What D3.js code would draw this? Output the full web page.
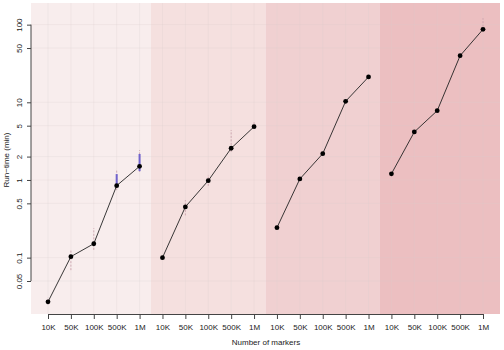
<!DOCTYPE html>
<html>
<head>
<meta charset="utf-8">
<script src="https://cdn.jsdelivr.net/npm/d3@7"></script>
<style>
  body { margin: 0; background: #fff; }
  svg { display: block; font-family: "Liberation Sans", Arial, sans-serif; }
</style>
</head>
<body>
<svg width="504" height="350"></svg>
<script>
// marker counts, repeated in each of the 4 shaded panels
const sizes = ["10K", "50K", "100K", "500K", "1M"];
const panelColors = ["#f8eded", "#f5e0df", "#f0d0d1", "#ecbfc1"];

// run-time (min): median, whiskers, box per panel
const runtime = [
    [0.027, 0.103, 0.151, 0.845, 1.5],
    [0.1, 0.45, 0.98, 2.56, 4.85],
    [0.243, 1.03, 2.18, 10.3, 21.2],
    [1.2, 4.15, 7.8, 39.8, 87]
];
const whiskerLo = [
    [0.025, 0.069, 0.126, 0.74, 1.27],
    [0.095, 0.35, 0.84, 2.3, 4.7],
    [0.235, 0.97, 2.05, 9.6, 20.3],
    [1.16, 4.0, 7.5, 38, 85]
];
const whiskerHi = [
    [0.031, 0.126, 0.24, 1.35, 2.43],
    [0.106, 0.55, 1.16, 4.4, 5.6],
    [0.25, 1.08, 2.3, 10.8, 22],
    [1.24, 4.3, 8.1, 41.5, 121]
];
const boxLo = [
    [0.026, 0.1, 0.148, 0.81, 1.3],
    [0.098, 0.44, 0.95, 2.5, 4.8],
    [0.24, 1.02, 2.15, 10.1, 21],
    [1.19, 4.1, 7.7, 39.4, 86]
];
const boxHi = [
    [0.028, 0.106, 0.155, 1.19, 2.16],
    [0.102, 0.46, 1.03, 2.62, 4.95],
    [0.246, 1.04, 2.2, 10.5, 21.4],
    [1.21, 4.2, 7.9, 40.2, 88]
];
const yTicks = [0.05, 0.1, 0.5, 1, 2, 5, 10, 50, 100];

const svg = d3.select("svg");
const plotLeft = 31, plotRight = 500, plotTop = 3, plotBottom = 314;

const x = d3.scaleLinear().domain([0, 19]).range([48, 483]);
const y = d3.scaleLog().domain([0.0188, 190]).range([plotBottom, plotTop]);
const step = x(1) - x(0);

// panel backgrounds
runtime.forEach(function(row, p) {
    const x0 = p === 0 ? plotLeft : x(p * 5) - step / 2;
    const x1 = p === 3 ? plotRight : x(p * 5 + 4) + step / 2;
    svg.append("rect")
        .attr("x", x0).attr("y", plotTop)
        .attr("width", x1 - x0).attr("height", plotBottom - plotTop)
        .attr("fill", panelColors[p]);
});

// grid (faint)
const grid = svg.append("g").attr("stroke", "#d8cccc").attr("stroke-opacity", 0.35)
    .attr("stroke-width", 0.7);
grid.selectAll("line.h").data(yTicks).join("line")
    .attr("class", "h")
    .attr("x1", plotLeft).attr("x2", plotRight)
    .attr("y1", d => y(d)).attr("y2", d => y(d));
grid.selectAll("line.v").data(d3.range(20)).join("line")
    .attr("class", "v")
    .attr("x1", d => x(d)).attr("x2", d => x(d))
    .attr("y1", plotTop).attr("y2", plotBottom);

// flatten the panels into points
const pts = [];
runtime.forEach(function(row, p) {
    row.forEach(function(v, i) {
        pts.push({p: p, i: p * 5 + i, v: v,
            lo: whiskerLo[p][i], hi: whiskerHi[p][i],
            bl: boxLo[p][i], bh: boxHi[p][i]});
    });
});

// whiskers
svg.append("g").selectAll("line").data(pts).join("line")
    .attr("x1", d => x(d.i)).attr("x2", d => x(d.i))
    .attr("y1", d => y(d.lo)).attr("y2", d => y(d.hi))
    .attr("stroke", "#c79aa6").attr("stroke-width", 0.8)
    .attr("stroke-dasharray", "2,1.5");

// boxes
svg.append("g").selectAll("rect").data(pts).join("rect")
    .attr("x", d => x(d.i) - 1).attr("width", 2)
    .attr("y", d => y(d.bh)).attr("height", d => y(d.bl) - y(d.bh))
    .attr("fill", "#6f62cc");

// lines per panel
const line = d3.line().x(d => x(d.i)).y(d => y(d.v));
svg.append("g").selectAll("path").data(d3.range(4)).join("path")
    .attr("d", p => line(pts.filter(d => d.p === p)))
    .attr("fill", "none").attr("stroke", "#222").attr("stroke-width", 0.9);

svg.append("g").selectAll("circle").data(pts).join("circle")
    .attr("cx", d => x(d.i)).attr("cy", d => y(d.v)).attr("r", 2.4)
    .attr("fill", "#000");

// x axis
const xLabels = d3.range(20).map(i => sizes[i % 5]);
const xAxis = svg.append("g")
    .attr("transform", "translate(0," + plotBottom + ")")
    .call(d3.axisBottom(x).tickValues(d3.range(20))
        .tickFormat(i => xLabels[i]).tickSize(5).tickPadding(5).tickSizeOuter(0));
xAxis.select(".domain").attr("stroke", "#444");
xAxis.selectAll("line").attr("stroke", "#444");
xAxis.selectAll("text").attr("font-size", 8).attr("fill", "#222");

// y axis
const yAxis = svg.append("g")
    .attr("transform", "translate(" + plotLeft + ",0)")
    .call(d3.axisLeft(y).tickValues(yTicks).tickFormat(d3.format("~g"))
        .tickSize(4).tickSizeOuter(0));
yAxis.select(".domain").attr("d", "M0," + y(0.05) + "V" + y(100)).attr("stroke", "#444");
yAxis.selectAll("line").attr("stroke", "#444");
yAxis.selectAll("text")
    .attr("font-size", 8).attr("fill", "#222")
    .attr("x", -9).attr("y", 0).attr("dy", null)
    .attr("text-anchor", "middle")
    .attr("transform", "rotate(-90,-9,0)");

// axis titles
svg.append("text")
    .attr("x", 266).attr("y", 345)
    .attr("text-anchor", "middle").attr("font-size", 8).attr("fill", "#222")
    .text("Number of markers");
svg.append("text")
    .attr("transform", "translate(9,160) rotate(-90)")
    .attr("text-anchor", "middle").attr("font-size", 8).attr("fill", "#222")
    .text("Run\u2212time (min)");
</script>
</body>
</html>
